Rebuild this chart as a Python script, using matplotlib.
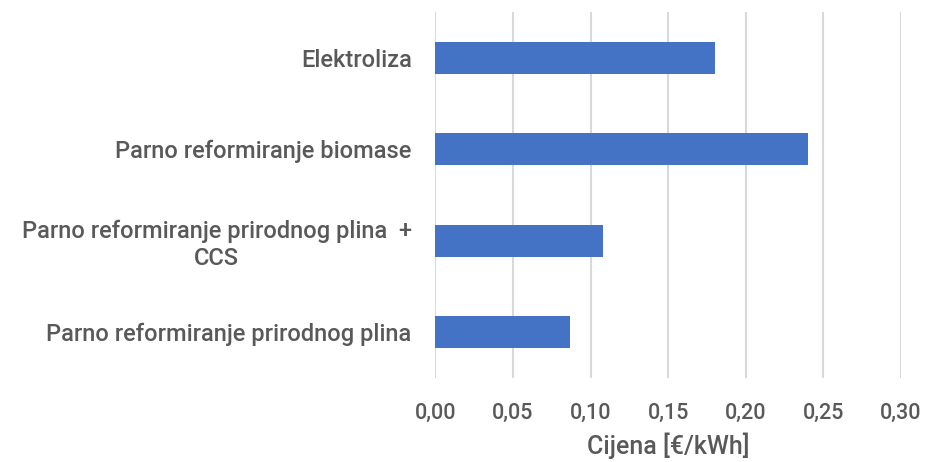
import matplotlib.pyplot as plt

# data (bottom to top)
categories = ["Parno reformiranje prirodnog plina",
              "Parno reformiranje prirodnog plina  +\nCCS",
              "Parno reformiranje biomase",
              "Elektroliza"]
cijena = [0.087, 0.108, 0.240, 0.180]
xticks = [0.00, 0.05, 0.10, 0.15, 0.20, 0.25, 0.30]

plt.rcParams['font.family'] = ['Roboto', 'DejaVu Sans']
plt.rcParams['font.weight'] = 'medium'
txt = '#595959'

fig = plt.figure(figsize=(9.25, 4.62), dpi=100)
ax = fig.add_axes([0.4706, 0.182, 0.5034, 0.792])

ax.barh(range(len(categories)), cijena, height=0.35, color='#4472c4', zorder=3)

ax.set_xlim(0, 0.30)
ax.set_ylim(-0.5, len(categories) - 0.5)
ax.set_xticks(xticks)
ax.set_xticklabels([('%.2f' % v).replace('.', ',') for v in xticks])
ax.set_yticks(range(len(categories)))
ax.set_yticklabels(categories, multialignment='center')

ax.grid(axis='x', color='#d9d9d9', linewidth=1.5, zorder=0)
for s in ax.spines.values():
    s.set_visible(False)

ax.tick_params(axis='both', length=0, labelcolor=txt)
ax.tick_params(axis='x', pad=18, labelsize=15.5)
ax.tick_params(axis='y', pad=17, labelsize=17)

ax.set_xlabel('Cijena [€/kWh]', fontsize=18, fontweight='medium', color=txt, labelpad=6)

fig.savefig('out.png', dpi=100)
